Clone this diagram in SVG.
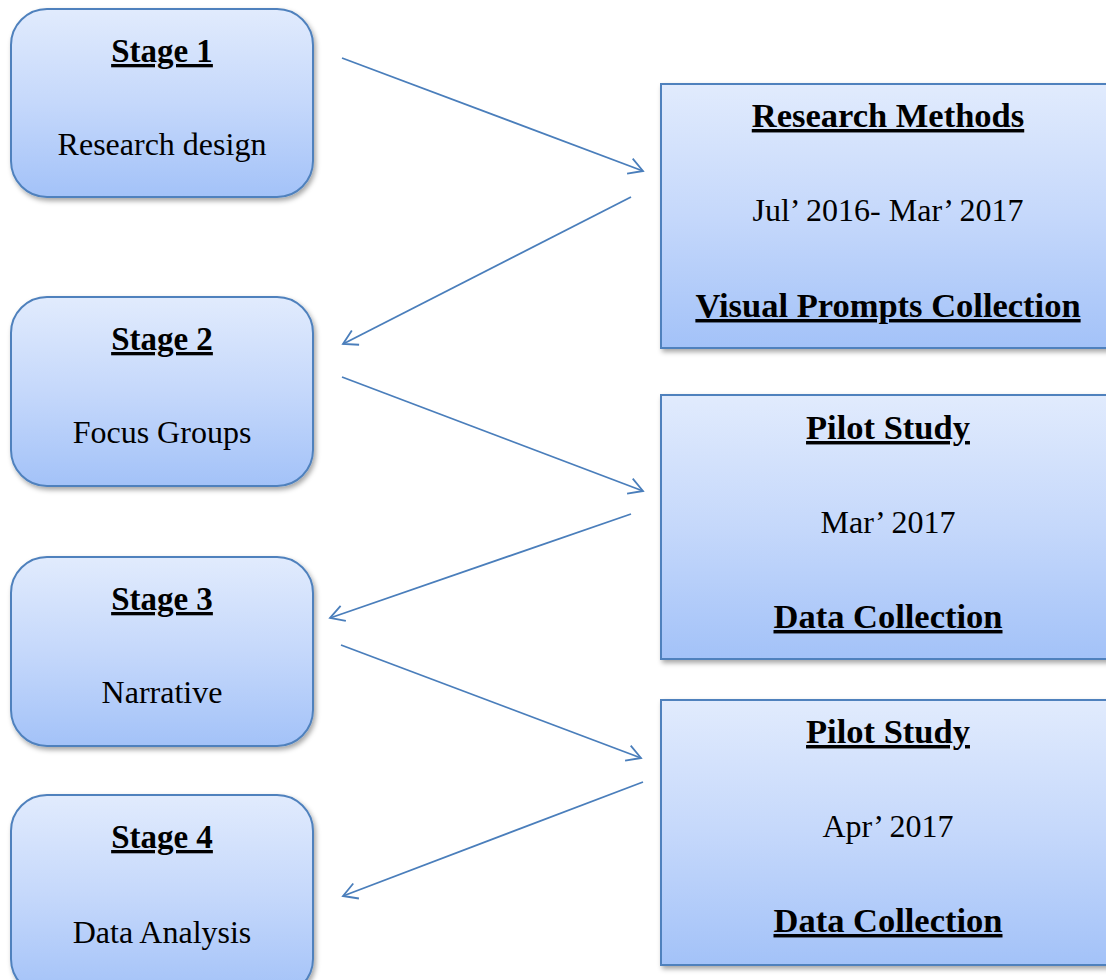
<svg xmlns="http://www.w3.org/2000/svg" width="1106" height="980" viewBox="0 0 1106 980">
<style>
.box{fill:url(#g);stroke:#4f81bd;stroke-width:2;filter:url(#sh)}
.t{font-family:"Liberation Serif","Times New Roman",serif;text-anchor:middle;fill:#000}
.h{font-weight:bold;font-size:33px;text-decoration:underline}
.n{font-size:32px}
.hr{font-weight:bold;font-size:34.5px;text-decoration:underline}
.c{fill:none;stroke:#4a7ebb;stroke-width:1.8;marker-end:url(#ah)}
</style>
<defs>
<linearGradient id="g" x1="0" y1="0" x2="0" y2="1">
<stop offset="0" stop-color="#e1ebfd"/>
<stop offset="0.5" stop-color="#c5d8fb"/>
<stop offset="1" stop-color="#a3c2f8"/>
</linearGradient>
<filter id="sh" x="-10%" y="-10%" width="130%" height="130%">
<feDropShadow dx="2" dy="3" stdDeviation="2.5" flood-color="#000" flood-opacity="0.35"/>
</filter>
<marker id="ah" viewBox="0 0 20 20" refX="18" refY="10" markerWidth="20" markerHeight="20" markerUnits="userSpaceOnUse" orient="auto">
<polyline points="4,2 18,10 4,18" fill="none" stroke="#4a7ebb" stroke-width="1.8"/>
</marker>
</defs>
<g id="stage1"><rect class="box" x="11" y="9" width="302" height="188" rx="36"/><text class="t h" x="162" y="62">Stage 1</text><text class="t n" x="162" y="155">Research design</text></g>
<g id="stage2"><rect class="box" x="11" y="297" width="302" height="189" rx="36"/><text class="t h" x="162" y="350">Stage 2</text><text class="t n" x="162" y="443">Focus Groups</text></g>
<g id="stage3"><rect class="box" x="11" y="557" width="302" height="189" rx="36"/><text class="t h" x="162" y="610">Stage 3</text><text class="t n" x="162" y="703">Narrative</text></g>
<g id="stage4"><rect class="box" x="11" y="795" width="302" height="200" rx="36"/><text class="t h" x="162" y="848">Stage 4</text><text class="t n" x="162" y="943">Data Analysis</text></g>
<g id="research-methods"><rect class="box" x="661" y="84" width="455" height="264"/><text class="t hr" x="888" y="127">Research Methods</text><text class="t n" x="888" y="221">Jul’ 2016- Mar’ 2017</text><text class="t hr" x="888" y="317">Visual Prompts Collection</text></g>
<g id="pilot1"><rect class="box" x="661" y="395" width="455" height="264"/><text class="t hr" x="888" y="439">Pilot Study</text><text class="t n" x="888" y="533">Mar’ 2017</text><text class="t hr" x="888" y="628">Data Collection</text></g>
<g id="pilot2"><rect class="box" x="661" y="700" width="455" height="265"/><text class="t hr" x="888" y="743">Pilot Study</text><text class="t n" x="888" y="837">Apr’ 2017</text><text class="t hr" x="888" y="932">Data Collection</text></g>
<g id="connectors">
<line class="c" x1="342" y1="58" x2="643" y2="171"/>
<line class="c" x1="631" y1="197" x2="343" y2="344"/>
<line class="c" x1="342" y1="377" x2="643" y2="491"/>
<line class="c" x1="631" y1="514" x2="330" y2="618"/>
<line class="c" x1="341" y1="645" x2="641" y2="758"/>
<line class="c" x1="643" y1="782" x2="343" y2="896"/>
</g>
</svg>
